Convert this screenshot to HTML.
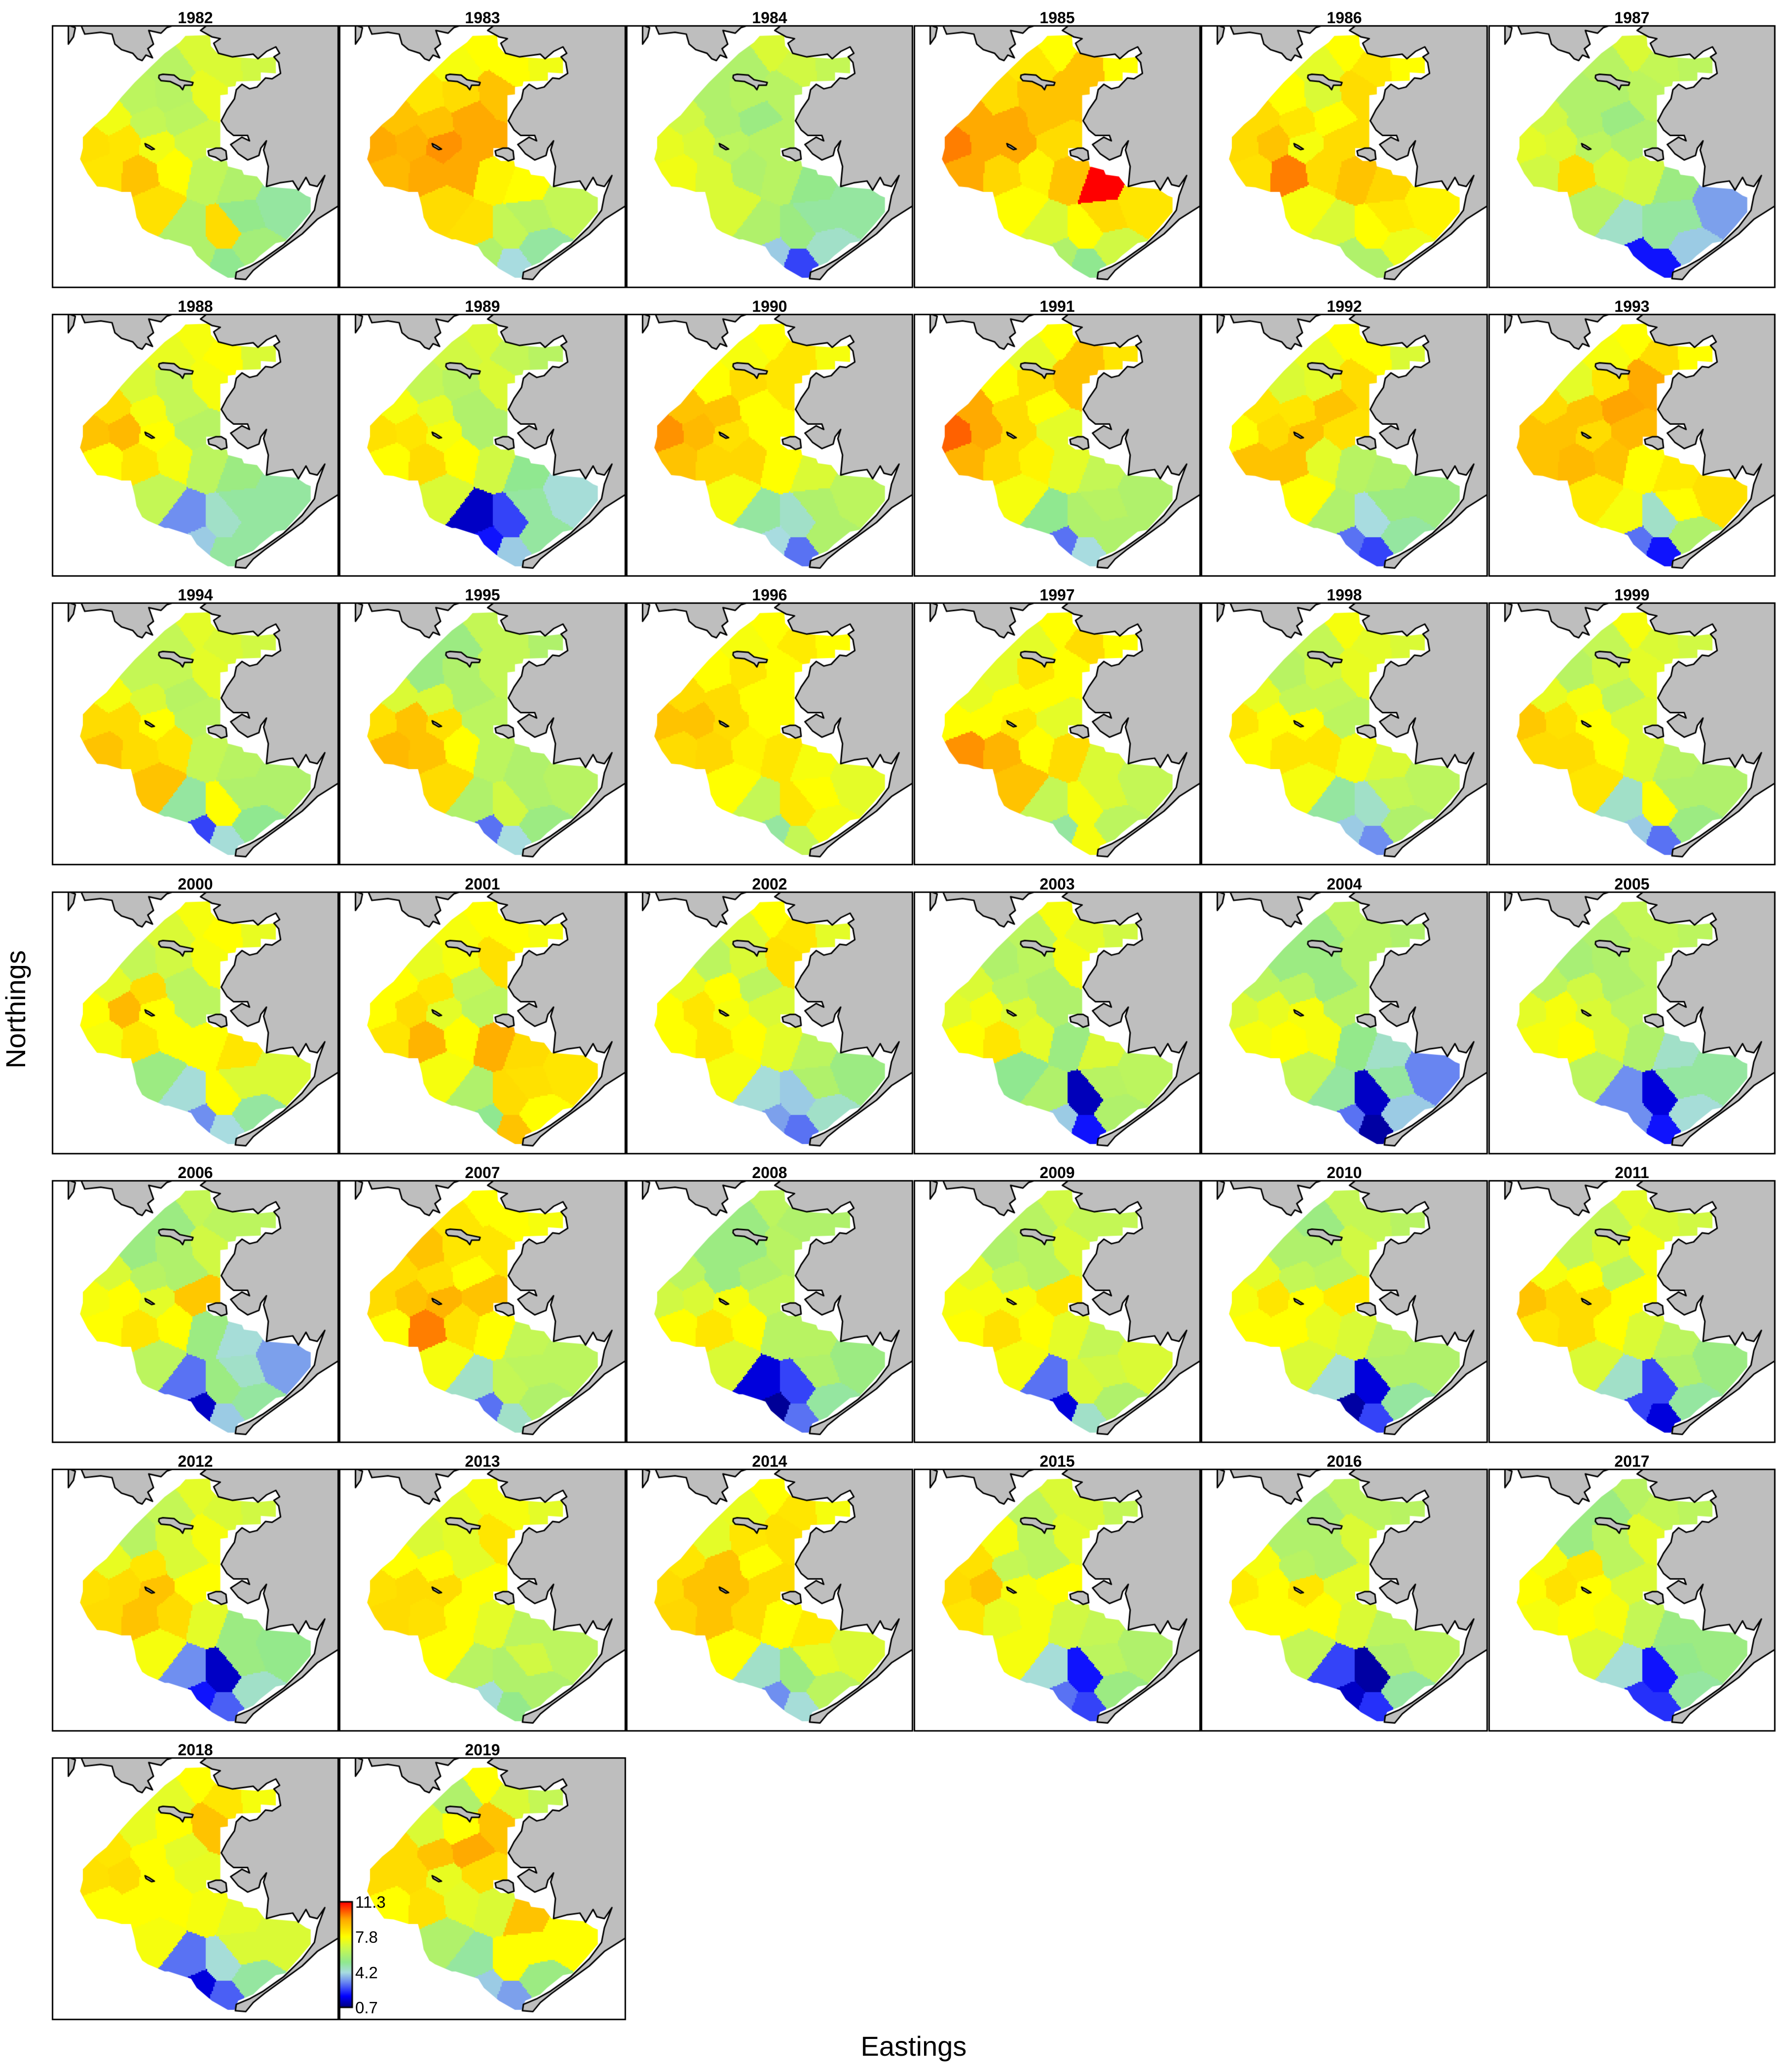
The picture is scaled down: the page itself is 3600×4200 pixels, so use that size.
<!DOCTYPE html>
<html><head><meta charset="utf-8">
<style>
html,body{margin:0;padding:0;background:#fff;}
body{width:3600px;height:4200px;position:relative;overflow:hidden;font-family:"Liberation Sans",sans-serif;}
#cv{position:absolute;left:0;top:0;}
.t{position:absolute;font-weight:bold;font-size:32px;line-height:32px;text-align:center;width:200px;}
.cb{position:absolute;font-size:33px;line-height:33px;}
</style></head>
<body>
<canvas id="cv" width="3600" height="4200"></canvas>
<div id="labels"></div>
<div style="position:absolute;left:-118px;top:2016px;width:300px;text-align:center;font-size:56px;line-height:60px;transform:rotate(-90deg);">Northings</div>
<div style="position:absolute;left:1652px;top:4118px;width:400px;text-align:center;font-size:56px;line-height:60px;">Eastings</div>
<script>
const years=[1982,1983,1984,1985,1986,1987,1988,1989,1990,1991,1992,1993,1994,1995,1996,1997,1998,1999,2000,2001,2002,2003,2004,2005,2006,2007,2008,2009,2010,2011,2012,2013,2014,2015,2016,2017,2018,2019];
const stationNames=["N","NW","NE1","NE2","W1","C1","C2","W2","C3","C4","W3","W4","C5","C6","W5","C7","C8","C9","E1","E2","S1","S2","S3","E3","S4","S5","E4"];
const stationX=[770,640,930,1100,470,650,850,330,520,700,230,390,560,760,280,480,650,840,1000,1200,560,727,925,1020,780,930,1060];
const stationY=[200,300,320,310,480,470,450,600,620,590,740,720,750,720,880,890,860,900,960,1060,1080,1210,1210,1130,1340,1400,1300];
const colorTicks=["11.3","7.8","4.2","0.7"];
const cellValues=[
[7,6.2,7,6.8,6.3,6.2,7.3,7.5,6.5,6.3,8.4,8.3,7.5,6.8,8.3,9,7.8,6.4,6,5,8.4,6,8.5,5.3,6,5.2,5.7],
[7.8,7.6,7.8,7.5,8.3,8.5,9,9,9,9.5,9.5,9.3,9.8,9.5,9.2,9.5,9.5,8,7.8,6.5,8.5,8.4,6.5,6.2,6,4.2,5],
[7,6,6.8,6.5,6,6.2,6.2,6.8,6,5.5,7.3,7,6.3,6.2,7.5,7,6,6.2,5.3,5,7,6,5.5,5,4,2.5,4.5],
[7.8,8.3,9,7.8,8.5,9,9,9.5,9.5,9,10,9.5,9.5,8.5,9.5,8.6,8,9,11.3,8.3,7.8,7,7.8,8.5,6,5.2,6.8],
[7.8,7.2,8.3,7.8,7.8,7,8.5,8.5,8.3,7.8,8.5,9,7.6,8.5,8.4,10,8.5,9,8.6,8,7.6,7,7.8,8.2,6,6,7.4],
[7,6.2,6.5,6.3,6,6,6.3,6.8,6,5.5,7.2,7,6.3,6,6.8,8.5,7,6.8,5.5,3.5,6.2,4.5,5,5,2,2,4],
[7.6,7.3,7.8,7,7,6.5,7.6,8.5,7.6,6.5,9,9.2,7.8,6.2,7.8,8.3,7.6,6.3,5.5,5,6.5,3.3,4.5,5,4,5,5],
[7,6.8,6.5,6.2,6.5,6.2,7,7.6,7.2,6,8.4,8.3,7.6,6,7.8,8.5,7.8,6.8,5.2,4.3,7,1.3,2.5,5,2,4,5],
[7.8,7.6,8.3,7.6,7.8,8.5,8.3,9,9,7.8,9.8,9.2,8.4,7.8,9,8.6,8.6,7.8,7,6.3,7.6,5,4.5,6,4.2,3,6],
[7.8,7.2,9,8.3,7.8,8.5,9,9.5,8.5,7.8,10.3,9.5,8.5,7.2,9.3,8.5,8,7.2,6.5,6,7.6,5.2,6,6.2,3,4.2,6],
[7.8,7.3,7.8,7,7,7.2,8.5,8.3,8.3,9,7.8,8.5,9,8.4,9,9,7.2,6.2,6,5.5,7.8,6,4.2,5.5,3,2.5,5],
[7.8,7.6,8.5,7.8,7.2,8.3,9.5,8.5,9,9.6,9,9,8.5,9.2,9,9.2,9,7.8,8.2,8.4,8.2,7.6,4.5,7.8,3,2,6],
[7.2,6.5,7,6.8,6.5,6.5,7.2,7.6,7,6.2,8.5,8.5,7.8,6.3,9,8.5,8.3,6.5,6.2,6,9,5,7.8,6,2.5,4.3,5.2],
[6.5,5.5,6.5,6,5.5,6,6.5,7,7,6,8.4,9,8.4,6.3,9.2,9,7.8,6.3,6,6.2,8.5,6,6.8,6,3,4.2,5.5],
[7.8,7.6,8.2,7.8,7.8,8.3,7.8,8.5,8.5,7.8,9,9,8.5,7.8,8.5,8.6,8,8.3,7.6,7.2,7.8,6.5,8.3,7.8,5,6.5,7.5],
[7.8,7.2,8.5,7.8,7.2,8.3,7.8,7.3,7.8,7.8,7.8,7.8,8.3,7.2,9.8,9.3,7.8,8.5,7,6.5,9,6.5,7.6,7,5,7.6,6.3],
[7.6,6.5,7.2,7,6.2,6.8,7.3,7.3,6.5,6.5,8.3,7.8,7.8,6.3,7.8,8.3,8.3,7.6,7,6.3,7.6,5,4.5,6.5,4,3.3,6],
[7.6,6.5,7,6.8,6.2,6.8,7.2,7.3,7.6,6.3,8.9,8.4,7.8,7,8.5,8.5,7.8,7,6.2,6,8.3,4.5,7.8,6,4,3,5.5],
[7.6,7,7.8,7.3,6.5,6.8,7.6,7.2,8.5,6.3,7.8,9.2,7.8,6.3,7.6,8.3,7.8,7.8,8.3,7,5.5,4.3,7.8,7,3.3,4.2,5],
[7.8,7.6,7.8,7.6,7.3,7.6,8.4,7.8,8.3,6.5,7.8,8.5,7.2,6.3,8.3,9.3,7.8,9.4,8.5,8.3,7.6,6,8.5,8.4,5.2,9,7.8],
[7.8,7,8.3,7.2,6.3,7,8.4,7.3,7.8,6.3,7.8,8.3,7.6,7,7.8,8.3,7.8,7.2,6.3,5.5,7.6,4.3,4,6,3.5,3,4.5],
[7.6,6.3,7.2,6.8,6,6.3,7.6,7,6.3,6,7.2,7.6,7,6,7.8,8.3,7.2,5.5,7,6.3,5.2,6,1.2,6.2,4,2,6],
[6.3,5.5,6.2,6,5.5,5.5,6.2,6.3,6.3,5.5,7,7.3,7.6,6.2,7.6,7.8,7.6,5.3,4.5,3.2,6.5,5,1.3,5,3,1,4],
[6.5,6,6.5,6.3,5.8,6,6.3,6.3,6.8,6,7.2,7.6,7,6.3,7.6,7.8,7,6,4.5,5,6.3,3.3,1.5,5,3.3,2,4.3],
[6.5,5.5,6.3,6.3,5.5,6,6.8,7,6.2,6,7.6,7.8,7.2,8.9,7.8,8.3,7.8,5.5,4.3,3.5,6.3,3,5.5,4.5,1.3,4,5],
[7.8,8.3,7.8,7.6,9,8.3,8.3,8.5,8.4,7.8,8.5,9,9.3,9,7.8,10,8.4,7.8,6.5,6.3,7.6,4.5,6.5,6.3,3,4.5,6],
[6.3,5.5,6,6,5.5,5.5,6.2,6.3,5.5,6,6.8,7,7.6,6.5,7.8,8.3,7.8,6.2,6.2,5.5,7,1.5,2.5,6,0.9,3,5],
[6.8,6.2,6.5,6.5,6,6.2,7,7.2,6.5,6.2,7.6,7.6,7.6,8.3,7.8,8.4,7.8,7.2,6.5,7,7.6,3,7,6.8,1.5,4.5,6],
[6.5,5.5,6.5,6.2,6,6,6.8,7.2,6.5,6.3,7.6,8.3,7.8,8.2,7.8,7.8,7.3,7,6.2,6,7,4.3,1.5,6,1,2.5,5],
[7.2,6.5,7,6.8,6.5,7,7.6,7.6,7.8,6.3,9,8.5,8.5,7.8,8.3,8.5,7.8,7,6.3,5.5,7,4.5,2.5,6,2.5,1.5,5],
[7.2,6.5,7,6.8,6.2,7,7.6,7.3,8.3,7,8.4,8.5,9,7.8,8.5,9,8.5,7.2,5.5,5.3,7.6,3.3,1.3,5.5,2,2.8,4.5],
[7.6,7.2,7.6,7.2,7,7.2,8.3,7.8,7.8,7.2,8.4,8.5,8.5,7.8,8.5,8.4,7.8,7.2,6.3,6.3,7.8,6.2,6,6.8,4.3,5.3,6],
[7.8,7.3,8.3,7.6,7.2,8.3,8.4,8.3,9,7.8,8.5,9,9,8.5,8.6,9,8.5,7.8,8.2,7,7.8,4.5,5.5,7.2,3.3,4.3,6.3],
[7,6.3,7,6.5,7.6,6.3,7.2,8.4,6.5,6.3,8.5,9,7.6,7.8,8.3,7.3,7.6,6.8,6.5,6,7.6,4.3,2,6.3,3,2.5,5.5],
[6.3,5.8,6.3,6.2,6,6,7,7.6,6.2,6,8.2,7.8,8.3,7.2,7.8,7.8,7.8,7,6.3,6.3,6.5,2.5,1,6,1.3,2.3,5],
[6.2,5.5,6.5,6.3,5.5,6.3,7.2,7.6,8.3,6.3,7.8,8.4,7.8,7,7.6,7.8,7.6,6.5,5.5,5.5,7,4.3,2,5.3,2.3,2.3,5],
[7.8,7.2,8.3,7.6,7.3,7.8,9,8.3,7.8,7.2,8.4,8.5,7.8,7.3,7.8,7.8,7.8,7.6,7.2,7,7.6,3,4.3,7,1.5,2.8,5],
[7.8,6,7,6.5,7,7.8,9,8.5,9,9.5,8.5,8.5,7.3,8.5,7.8,8.4,7.2,7,9,7.8,6,5,7.8,7.8,4,3.5,5.5]
];
// geometry (reference-crop coordinates, mapped into each panel)
const domainPoly=[[720,145],[850,140],[855,200],[890,240],[960,260],[1100,270],[1200,260],[1200,350],[1120,345],[1120,390],[990,395],[985,420],[945,425],[945,465],[905,470],[905,760],[830,760],[830,800],[870,830],[940,830],[945,860],[1020,880],[1030,905],[1100,915],[1140,970],[1310,985],[1360,1020],[1385,1030],[1385,1110],[1320,1190],[1250,1270],[1200,1280],[1115,1350],[1080,1385],[1000,1420],[980,1470],[945,1470],[860,1420],[780,1350],[750,1300],[720,1290],[630,1260],[610,1260],[520,1220],[490,1200],[460,1140],[450,1080],[430,1000],[380,1000],[300,975],[250,970],[200,900],[160,820],[175,760],[175,700],[240,630],[300,580],[380,480],[450,400],[540,310],[610,240],[690,180]];
const landEast=[[835,86],[800,115],[860,150],[905,160],[870,185],[895,240],[970,260],[1080,245],[1105,270],[1150,230],[1200,205],[1220,240],[1190,260],[1215,290],[1225,350],[1180,380],[1145,375],[1100,425],[1060,435],[1020,410],[990,440],[980,490],[940,550],[910,610],[940,660],[975,690],[1050,690],[1060,720],[1020,700],[960,740],[1000,790],[1050,825],[1110,800],[1120,760],[1150,720],[1135,770],[1160,860],[1150,970],[1220,950],[1290,940],[1320,990],[1360,920],[1380,960],[1420,970],[1460,910],[1420,1020],[1405,1100],[1340,1190],[1240,1290],[1130,1370],[1060,1410],[990,1440],[985,1475],[1040,1480],[1080,1430],[1140,1380],[1260,1290],[1340,1230],[1420,1150],[1535,1075],[1535,86]];
const landNorth=[[165,86],[185,135],[270,125],[330,135],[345,190],[380,220],[440,240],[465,270],[490,280],[510,250],[545,265],[520,215],[550,190],[525,115],[590,130],[620,100],[660,86]];
const landNW=[[98,86],[135,100],[125,150],[98,190]];
const islandSL=[[580,360],[600,355],[660,360],[690,385],[760,400],[755,415],[715,415],[705,440],[690,420],[640,395],[590,390],[578,375]];
const islandNun=[[840,775],[880,760],[910,760],[935,775],[940,820],[910,830],[880,810],[845,800]];
const islandSM=[[505,735],[525,745],[555,765],[540,768],[510,750]];

const PL=104.5, PT=51, PW=582.4, PH=585.2, BW=582, BH=533;
const stops=[[0.7,[0,0,128]],[1.8,[0,0,255]],[3.3,[111,143,240]],[4.2,[168,220,224]],[5.2,[144,232,144]],[6.6,[200,248,80]],[7.8,[255,255,0]],[9.6,[255,165,0]],[11.3,[255,0,0]]];
function colorOf(v){
  if(v<=stops[0][0]) return stops[0][1];
  for(let i=1;i<stops.length;i++){
    if(v<=stops[i][0]){const a=stops[i-1],b=stops[i];const t=(v-a[0])/(b[0]-a[0]);
      return a[1].map((c,k)=>Math.round(c+(b[1][k]-c)*t));}
  }
  return stops[stops.length-1][1];
}
const cv=document.getElementById('cv');const ctx=cv.getContext('2d');
function mapX(L,x){return L+(x-10)/1525*BW;}
function mapY(T,y){return T+(y-86)/1441*BH;}
function poly(L,T,p){ctx.beginPath();p.forEach((q,i)=>{const X=mapX(L,q[0]),Y=mapY(T,q[1]);i?ctx.lineTo(X,Y):ctx.moveTo(X,Y);});ctx.closePath();}
const labels=document.getElementById('labels');
years.forEach((yr,idx)=>{
  const col=idx%6,row=Math.floor(idx/6);
  const L=Math.round(PL+col*PW),T=Math.round(PT+row*PH);
  const vals=cellValues[idx];
  const sx=stationX.map(x=>mapX(L,x)),sy=stationY.map(y=>mapY(T,y));
  ctx.save();poly(L,T,domainPoly);ctx.clip();
  const step=3;
  for(let y=T;y<T+BH;y+=step){for(let x=L;x<L+BW;x+=step){
    let best=0,bd=1e12;
    for(let s=0;s<sx.length;s++){const dx=x-sx[s],dy=y-sy[s];const d=dx*dx+dy*dy;if(d<bd){bd=d;best=s;}}
    const c=colorOf(vals[best]);ctx.fillStyle='rgb('+c[0]+','+c[1]+','+c[2]+')';ctx.fillRect(x,y,step,step);
  }}
  ctx.restore();
  ctx.save();ctx.beginPath();ctx.rect(L,T,BW,BH);ctx.clip();
  ctx.fillStyle='#bebebe';ctx.strokeStyle='#000';ctx.lineWidth=3;ctx.lineJoin='round';
  [landEast,landNorth,landNW,islandSL,islandNun,islandSM].forEach(p=>{poly(L,T,p);ctx.fill();ctx.stroke();});
  ctx.restore();
  ctx.strokeStyle='#000';ctx.lineWidth=3;ctx.strokeRect(L+1.5,T+1.5,BW-3,BH-3);
  const d=document.createElement('div');d.className='t';
  
  
  d.style.left=(L+BW/2-100)+'px';d.style.top=(T-31)+'px';d.textContent=yr;labels.appendChild(d);
});
// colorbar
(function(){
  const x=688,y0=3855,h=214,w=26;
  for(let i=0;i<h;i++){const v=11.3-(11.3-0.7)*i/(h-1);const c=colorOf(v);ctx.fillStyle='rgb('+c[0]+','+c[1]+','+c[2]+')';ctx.fillRect(x,y0+i,w,1);}
  ctx.strokeStyle='#000';ctx.lineWidth=3;ctx.strokeRect(x,y0,w,h);
  colorTicks.forEach((t,i)=>{const d=document.createElement('div');d.className='cb';
    
    
    d.style.left=(x+w+6)+'px';d.style.top=(y0-16+i*h/3)+'px';d.textContent=t;labels.appendChild(d);});
})();
</script>
</body></html>
